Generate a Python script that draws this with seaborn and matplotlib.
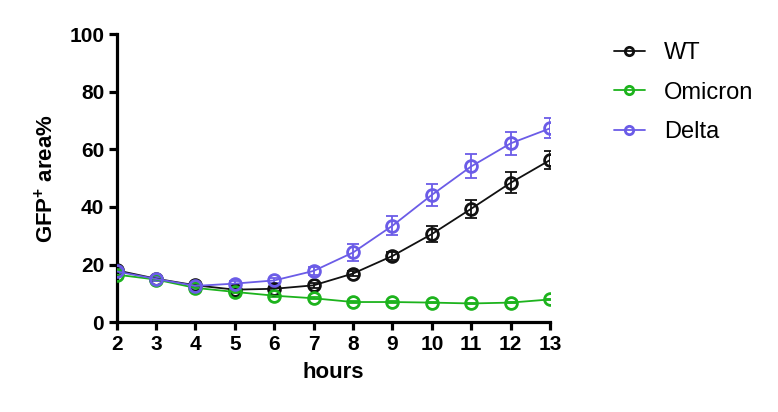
import numpy as np
import pandas as pd
import matplotlib
matplotlib.use("Agg")
import matplotlib.pyplot as plt
import seaborn as sns
from matplotlib.lines import Line2D

hours = [2, 3, 4, 5, 6, 7, 8, 9, 10, 11, 12, 13]
wt_mean = [18.0, 15.1, 12.8, 11.3, 11.6, 12.8, 16.9, 23.0, 30.6, 39.4, 48.4, 56.3]
wt_err = [0.8, 0.7, 0.6, 0.6, 0.6, 0.8, 1.0, 1.5, 2.7, 3.1, 3.6, 3.1]
omi_mean = [16.5, 14.8, 11.9, 10.5, 9.2, 8.3, 7.0, 7.0, 6.8, 6.5, 6.8, 7.9]
omi_err = [0.5, 0.5, 0.5, 0.4, 0.4, 0.4, 0.3, 0.3, 0.3, 0.3, 0.3, 0.3]
delta_mean = [17.6, 15.0, 12.6, 13.4, 14.5, 17.8, 24.2, 33.5, 44.2, 54.1, 62.1, 67.3]
delta_err = [0.7, 0.6, 0.6, 0.8, 1.0, 1.5, 2.8, 3.4, 3.9, 4.2, 3.9, 3.5]

series = ["WT", "Omicron", "Delta"]
colors = {"WT": "#111111", "Omicron": "#1DB31D", "Delta": "#6B5CE7"}

df = pd.DataFrame({
    "hours": hours * 3,
    "value": wt_mean + omi_mean + delta_mean,
    "err": wt_err + omi_err + delta_err,
    "group": ["WT"] * 12 + ["Omicron"] * 12 + ["Delta"] * 12,
})

sns.set_style("ticks")
plt.rcParams["font.family"] = ["Liberation Sans", "DejaVu Sans"]
plt.rcParams["text.color"] = "black"
plt.rcParams["axes.labelcolor"] = "black"
plt.rcParams["xtick.color"] = "black"
plt.rcParams["ytick.color"] = "black"
plt.rcParams["mathtext.fontset"] = "custom"
plt.rcParams["mathtext.rm"] = "Liberation Sans:bold"
plt.rcParams["mathtext.bf"] = "Liberation Sans:bold"
plt.rcParams["mathtext.default"] = "bf"

fig = plt.figure(figsize=(7.78, 4.12), dpi=100)
ax = fig.add_axes([0.150, 0.218, 0.557, 0.699])

sns.lineplot(data=df, x="hours", y="value", hue="group", hue_order=series,
             palette=colors, marker="o", markersize=8.5, markerfacecolor="none",
             markeredgewidth=2.0, linewidth=1.3, ax=ax, legend=False, zorder=3)
for line in ax.lines:
    line.set_markeredgecolor(line.get_color())
    line.set_markerfacecolor("none")

for g in series:
    sub = df[df["group"] == g]
    ax.errorbar(sub["hours"], sub["value"], yerr=sub["err"], fmt="none",
                ecolor=colors[g], elinewidth=1.3, capsize=4.5, capthick=1.3, zorder=2)

ax.set_xlim(2, 13)
ax.set_ylim(0, 100)
ax.set_xticks(hours)
ax.set_yticks([0, 20, 40, 60, 80, 100])
for side in ["top", "right"]:
    ax.spines[side].set_visible(False)
for side in ["left", "bottom"]:
    ax.spines[side].set_linewidth(2.3)
    ax.spines[side].set_color("black")
ax.tick_params(axis="both", width=2.3, length=6, direction="out", color="black",
               labelcolor="black", labelsize=15, pad=3)
for lab in ax.get_xticklabels() + ax.get_yticklabels():
    lab.set_fontweight("bold")
ax.set_xlabel("hours", fontsize=16, fontweight="bold", labelpad=6)
ax.set_ylabel("GFP$^{+}$ area%", fontsize=16, fontweight="bold", labelpad=8)

handles = [Line2D([0], [0], color=colors[g], lw=1.3, marker="o", markersize=6,
                  markerfacecolor="none", markeredgewidth=2.0) for g in series]
fig.legend(handles, series, loc="upper left", bbox_to_anchor=(0.762, 0.95),
           frameon=False, fontsize=17, handlelength=1.3, labelspacing=0.75,
           handletextpad=0.8)

fig.savefig("out.png", dpi=100)
